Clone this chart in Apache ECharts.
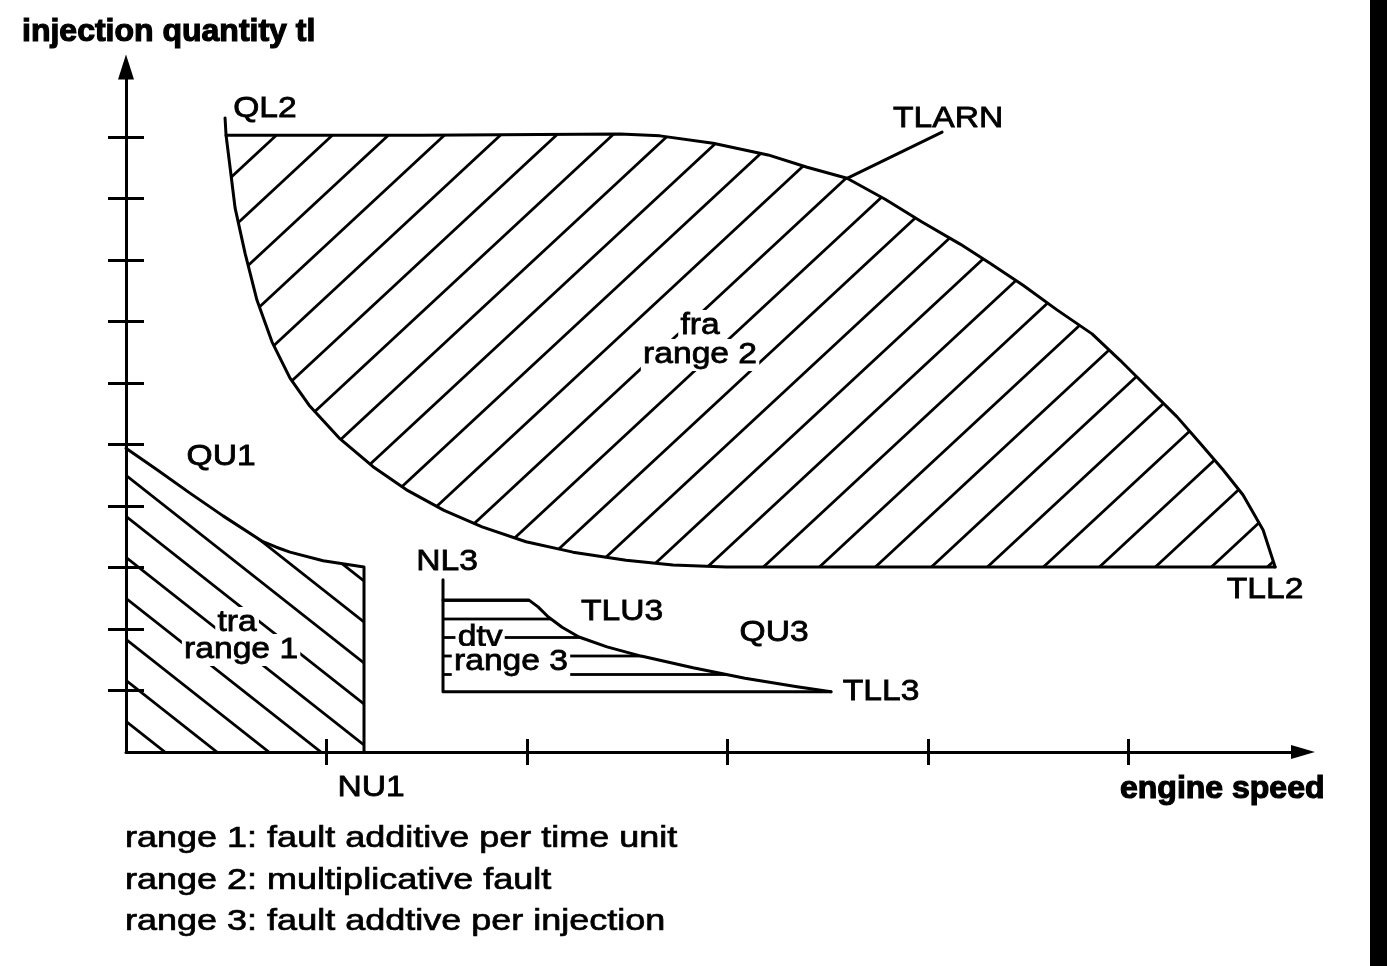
<!DOCTYPE html>
<html>
<head>
<meta charset="utf-8">
<script src="https://cdn.jsdelivr.net/npm/echarts@6/dist/echarts.min.js"></script>
<style>
html,body{margin:0;padding:0;background:#fff;}
#chart{width:1392px;height:966px;}
</style>
</head>
<body>
<div id="chart"></div>
<script>
// ---------- data (engine speed units on x, injection quantity units on y) ----------
const xTicks = [1, 2, 3, 4, 5];
const yTicks = [1, 2, 3, 4, 5, 6, 7, 8, 9, 10];

// range 2: upper boundary (QL2 line + TLARN curve down to TLL2)
const range2UpperX = [0.499, 1.466, 2.464, 2.663, 2.928, 3.202, 3.397, 3.596, 3.786, 3.970, 4.160, 4.309, 4.474, 4.643, 4.818, 4.958, 5.097, 5.242, 5.357, 5.471, 5.571, 5.671, 5.731];
const range2UpperY = [10.03, 10.03, 10.05, 10.02, 9.90, 9.71, 9.51, 9.33, 8.99, 8.62, 8.26, 7.95, 7.59, 7.19, 6.80, 6.37, 5.92, 5.45, 5.02, 4.59, 4.18, 3.61, 3.01];
// range 2: lower boundary (QL2 curve + lower limit to TLL2)
const range2LowerX = [0.494, 0.499, 0.519, 0.544, 0.594, 0.653, 0.728, 0.818, 0.913, 1.062, 1.232, 1.406, 1.586, 1.776, 1.995, 2.229, 2.494, 2.728, 2.993, 5.731];
const range2LowerY = [10.31, 10.03, 9.51, 8.85, 8.11, 7.35, 6.67, 6.08, 5.64, 5.11, 4.64, 4.25, 3.93, 3.66, 3.42, 3.25, 3.12, 3.04, 3.01, 3.01];

// range 1: QU1 curve and NU1 edge
const range1X = [0, 0.155, 0.319, 0.484, 0.683, 0.750, 0.818, 0.983, 1.187, 1.187];
const range1Y = [4.94, 4.59, 4.21, 3.84, 3.42, 3.33, 3.25, 3.11, 3.01, 0];

// range 3: TLU3 curve and NL3 / TLL3 limits
const range3UpperX = [1.581, 2.010, 2.055, 2.105, 2.175, 2.259, 2.399, 2.569, 2.828, 3.087, 3.347, 3.516];
const range3UpperY = [2.47, 2.47, 2.36, 2.20, 2.03, 1.87, 1.71, 1.56, 1.37, 1.20, 1.06, 0.98];
const range3LowerX = [1.581, 1.581, 3.516];
const range3LowerY = [2.80, 0.98, 0.98];

// TLARN leader line
const leaderX = [3.596, 4.070];
const leaderY = [9.33, 10.08];

// ---------- layout / style ----------
const X_MAX = 5.87, Y_MAX = 11.14;
const FONT = '"Liberation Sans", Arial, Helvetica, sans-serif';

function zip(xs, ys) { return xs.map((x, i) => [x, ys[i]]); }

function tile(w, h, draw) {
  const c = document.createElement('canvas');
  c.width = w; c.height = h;
  const ctx = c.getContext('2d');
  ctx.strokeStyle = '#000';
  ctx.lineWidth = 2.8;
  draw(ctx, w, h);
  return c;
}
// "/" hatch for range 2
const hatch2 = { image: tile(56, 52, (ctx, w, h) => {
  const x0 = 30;
  for (let k = -2; k <= 2; k++) {
    ctx.beginPath();
    ctx.moveTo(x0 + w * k + w, -h);
    ctx.lineTo(x0 + w * k - 2 * w, 2 * h);
    ctx.stroke();
  }
}), repeat: 'repeat' };
// "\" hatch for range 1
const hatch1 = { image: tile(52, 41, (ctx, w, h) => {
  const c0 = 7;
  for (let k = -2; k <= 2; k++) {
    ctx.beginPath();
    ctx.moveTo(-w, c0 + h * k - h);
    ctx.lineTo(2 * w, c0 + h * k + 2 * h);
    ctx.stroke();
  }
}), repeat: 'repeat' };
// horizontal hatch for range 3
const hatch3 = { image: tile(8, 37, (ctx, w) => {
  [8.5, 27].forEach(y => { ctx.beginPath(); ctx.moveTo(-2, y); ctx.lineTo(w + 2, y); ctx.stroke(); });
}), repeat: 'repeat' };

const range2Poly = zip(range2UpperX, range2UpperY).concat(zip(range2LowerX.slice(1), range2LowerY.slice(1)).reverse());
const range1Poly = [[0, 0]].concat(zip(range1X, range1Y));
const range3Poly = [[range3LowerX[1], range3LowerY[1]]].concat(zip(range3UpperX, range3UpperY));

function polySeries(name, pts, fill) {
  return {
    type: 'custom', name, coordinateSystem: 'cartesian2d', xAxisIndex: 0, yAxisIndex: 0,
    z: 1, silent: true, clip: false, data: [[0, 0]],
    renderItem: (params, api) => ({
      type: 'polygon',
      shape: { points: pts.map(p => api.coord(p)) },
      style: { fill: fill, stroke: null }
    })
  };
}
function lineSeries(name, xs, ys) {
  return {
    type: 'line', name, data: zip(xs, ys), xAxisIndex: 0, yAxisIndex: 0, z: 3,
    symbol: 'none', showSymbol: false, silent: true, clip: false, smooth: false,
    lineStyle: { color: '#000', width: 3, cap: 'round', join: 'round' },
    emphasis: { disabled: true }
  };
}

const axisCommon = { type: 'value', min: 0, interval: 1, axisLabel: { show: false }, splitLine: { show: false } };
const tickStyle = { color: '#000', width: 3 };

const chart = echarts.init(document.getElementById('chart'), null, { renderer: 'canvas' });
chart.setOption({
  animation: false,
  backgroundColor: '#fff',
  grid: { left: 126, right: 89, top: 67, bottom: 214, outerBoundsMode: 'none', containLabel: false },
  xAxis: [
    Object.assign({}, axisCommon, { max: X_MAX, position: 'bottom',
      axisLine: { show: true, onZero: false, lineStyle: { color: '#000', width: 3 }, symbol: ['none', 'triangle'], symbolSize: [14, 24] },
      axisTick: { show: true, length: 13, lineStyle: tickStyle, customValues: xTicks } }),
    Object.assign({}, axisCommon, { max: X_MAX, position: 'bottom',
      axisLine: { show: false, onZero: false },
      axisTick: { show: true, inside: true, length: 13, lineStyle: tickStyle, customValues: xTicks } })
  ],
  yAxis: [
    Object.assign({}, axisCommon, { max: Y_MAX, position: 'left',
      axisLine: { show: true, onZero: false, lineStyle: { color: '#000', width: 3 }, symbol: ['none', 'triangle'], symbolSize: [16, 25] },
      axisTick: { show: true, length: 18, lineStyle: tickStyle, customValues: yTicks } }),
    Object.assign({}, axisCommon, { max: Y_MAX, position: 'left',
      axisLine: { show: false, onZero: false },
      axisTick: { show: true, inside: true, length: 18, lineStyle: tickStyle, customValues: yTicks } })
  ],
  series: [
    polySeries('range 2', range2Poly, hatch2),
    polySeries('range 1', range1Poly, hatch1),
    polySeries('range 3', range3Poly, hatch3),
    lineSeries('TLARN', range2UpperX, range2UpperY),
    lineSeries('QL2', range2LowerX, range2LowerY),
    lineSeries('QU1', range1X, range1Y),
    lineSeries('TLU3', range3UpperX, range3UpperY),
    lineSeries('NL3', range3LowerX, range3LowerY),
    lineSeries('leader', leaderX, leaderY)
  ]
});

// ---------- annotations ----------
const annotations = [
  { text: 'QL2', at: [0.693, 10.455] },
  { text: 'TLARN', at: [4.100, 10.293] },
  { text: 'fra', at: [2.863, 6.927], boxed: true },
  { text: 'range 2', at: [2.863, 6.455], boxed: true },
  { text: 'QU1', at: [0.474, 4.797] },
  { text: 'tra', at: [0.554, 2.098], boxed: true },
  { text: 'range 1', at: [0.574, 1.659], boxed: true },
  { text: 'NL3', at: [1.601, 3.089] },
  { text: 'TLU3', at: [2.474, 2.276] },
  { text: 'QU3', at: [3.232, 1.935] },
  { text: 'dtv', at: [1.766, 1.854], boxed: true },
  { text: 'range 3', at: [1.920, 1.463], boxed: true },
  { text: 'TLL3', at: [3.766, 0.976] },
  { text: 'TLL2', at: [5.681, 2.634] },
  { text: 'NU1', at: [1.222, -0.585] }
];
const notes = ['range 1: fault additive per time unit', 'range 2: multiplicative fault', 'range 3: fault addtive per injection'];

const graphic = [];
annotations.forEach(a => {
  const p = chart.convertToPixel({ xAxisIndex: 0, yAxisIndex: 0 }, a.at);
  const style = { text: a.text, font: '30px ' + FONT, fill: '#000', stroke: '#000', lineWidth: 0.8,
    textAlign: 'center', textVerticalAlign: 'middle', align: 'center', verticalAlign: 'middle' };
  if (a.boxed) { style.backgroundColor = '#fff'; style.padding = [1, 2]; }
  graphic.push({ type: 'text', x: p[0], y: p[1], z: 2, scaleX: 1.12, silent: true, style });
});
notes.forEach((t, i) => {
  graphic.push({ type: 'text', x: 125, y: 839 + i * 41.5, z: 2, scaleX: 1.2, silent: true,
    style: { text: t, font: '30px ' + FONT, fill: '#000', stroke: '#000', lineWidth: 0.7, textAlign: 'left', textVerticalAlign: 'middle', align: 'left', verticalAlign: 'middle' } });
});
graphic.push({ type: 'text', x: 22, y: 32, z: 2, silent: true,
  style: { text: 'injection quantity tl', font: 'bold 32px ' + FONT, fill: '#000', stroke: '#000', lineWidth: 1.2, textAlign: 'left', textVerticalAlign: 'middle', align: 'left', verticalAlign: 'middle' } });
graphic.push({ type: 'text', x: 1120, y: 789, z: 2, silent: true,
  style: { text: 'engine speed', font: 'bold 32px ' + FONT, fill: '#000', stroke: '#000', lineWidth: 1.2, textAlign: 'left', textVerticalAlign: 'middle', align: 'left', verticalAlign: 'middle' } });
graphic.push({ type: 'rect', z: 2, silent: true, shape: { x: 1370, y: 0, width: 17, height: 966 }, style: { fill: '#000' } });

chart.setOption({ graphic: graphic });
</script>
</body>
</html>
